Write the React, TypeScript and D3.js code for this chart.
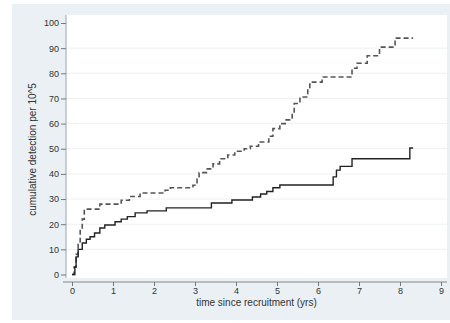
import React, { useEffect, useRef } from 'react';
import * as d3 from 'd3';

// step points: [years, cumulative detection per 10^5]
const dashedTimes = [0, 0.05, 0.1, 0.15, 0.2, 0.25, 0.3, 0.68, 1.2, 1.4, 1.66, 2.27, 2.4, 2.95, 3.05, 3.1, 3.3, 3.44, 3.6, 3.8, 3.97, 4.2, 4.35, 4.55, 4.8, 4.9, 5.07, 5.2, 5.37, 5.42, 5.56, 5.75, 5.8, 6.1, 6.83, 6.95, 7.2, 7.5, 7.88, 8.32];
const dashedValues = [0, 3, 8, 13, 18, 22, 26, 28, 29.5, 31, 32.4, 33.5, 34.5, 35.5, 38, 40.5, 42, 44, 46, 47.5, 49, 50, 51, 52.7, 55, 58, 60, 61.5, 64, 68, 70.6, 74, 76.5, 78.5, 82, 84, 87, 90.4, 94, 94];

const solidTimes = [0, 0.07, 0.1, 0.15, 0.25, 0.35, 0.44, 0.55, 0.68, 0.8, 1.05, 1.2, 1.35, 1.54, 1.83, 2.3, 3.4, 3.9, 4.4, 4.6, 4.75, 4.9, 5.07, 6.37, 6.45, 6.54, 6.83, 8.24, 8.32];
const solidValues = [0, 3, 7, 10, 12.5, 14, 15, 16.5, 18.5, 19.7, 21, 22, 23, 24.5, 25.3, 26.5, 28.4, 29.6, 30.8, 32, 33, 34.5, 35.6, 38.8, 41.5, 43, 46, 50.3, 50.3];

const xTicks = [0, 1, 2, 3, 4, 5, 6, 7, 8, 9];
const yTicks = [0, 10, 20, 30, 40, 50, 60, 70, 80, 90, 100];

const W = 450;
const H = 323;
const font = '"Liberation Sans", Arial, sans-serif';

const App = () => {
  const ref = useRef<SVGSVGElement>(null);

  useEffect(() => {
    const svg = d3.select(ref.current);
    svg.selectAll('*').remove();

    const x = d3.scaleLinear().domain([0, 9]).range([72, 441]);
    const y = d3.scaleLinear().domain([0, 100]).range([274.5, 23]);

    // outer background
    svg.append('rect').attr('x', 0).attr('y', 0).attr('width', W).attr('height', H).attr('fill', '#fff');
    svg.append('rect').attr('x', 12).attr('y', 4).attr('width', 438).attr('height', 316).attr('fill', '#eaf0f3');

    // plot region
    svg.append('rect').attr('x', 66).attr('y', 15).attr('width', 381).attr('height', 263).attr('fill', '#fff');

    // gridlines
    svg.append('g')
      .selectAll('line')
      .data(yTicks.filter(d => d > 0 && d < 100))
      .enter()
      .append('line')
      .attr('x1', 66)
      .attr('x2', 447)
      .attr('y1', d => y(d))
      .attr('y2', d => y(d))
      .attr('stroke', '#edf1f3')
      .attr('stroke-width', 1);

    // y axis
    const yAxis = svg.append('g').attr('transform', 'translate(66,0)')
      .call(d3.axisLeft(y).tickValues(yTicks).tickSize(5).tickPadding(2));
    yAxis.select('.domain').attr('d', `M0,15V278`).attr('stroke', '#9aa7ad');
    yAxis.selectAll('.tick line').attr('stroke', '#777');
    yAxis.selectAll('.tick text').attr('fill', '#333').style('font-family', font).style('font-size', '9px');

    // x axis
    const xAxis = svg.append('g').attr('transform', 'translate(0,282)')
      .call(d3.axisBottom(x).tickValues(xTicks).tickFormat(d3.format('d')).tickSize(4).tickPadding(2));
    xAxis.select('.domain').attr('d', 'M63,0H447').attr('stroke', '#888');
    xAxis.selectAll('.tick line').attr('stroke', '#777');
    xAxis.selectAll('.tick text').attr('fill', '#333').style('font-family', font).style('font-size', '9px');

    // titles
    svg.append('text')
      .attr('x', (x(0) + x(9)) / 2)
      .attr('y', 306)
      .attr('text-anchor', 'middle')
      .style('font-family', font)
      .style('font-size', '10px')
      .attr('fill', '#333')
      .text('time since recruitment (yrs)');

    svg.append('text')
      .attr('transform', `translate(36,${(79 + 220) / 2}) rotate(-90)`)
      .attr('text-anchor', 'middle')
      .style('font-family', font)
      .style('font-size', '10px')
      .attr('fill', '#333')
      .text('cumulative detection per 10^5');

    const line = d3.line<[number, number]>()
      .x(d => x(d[0]))
      .y(d => y(d[1]))
      .curve(d3.curveStepAfter);

    const dashed: [number, number][] = dashedTimes.map((t, i) => [t, dashedValues[i]]);
    const solid: [number, number][] = solidTimes.map((t, i) => [t, solidValues[i]]);

    svg.append('path')
      .datum(dashed)
      .attr('d', line)
      .attr('fill', 'none')
      .attr('stroke', '#555')
      .attr('stroke-width', 1.6)
      .attr('stroke-dasharray', '5,3');

    svg.append('path')
      .datum(solid)
      .attr('d', line)
      .attr('fill', 'none')
      .attr('stroke', '#222')
      .attr('stroke-width', 1.4);
  }, []);

  return <svg ref={ref} width={W} height={H} style={{ display: 'block', position: 'absolute', left: 0, top: 0 }} />;
};

export default App;
